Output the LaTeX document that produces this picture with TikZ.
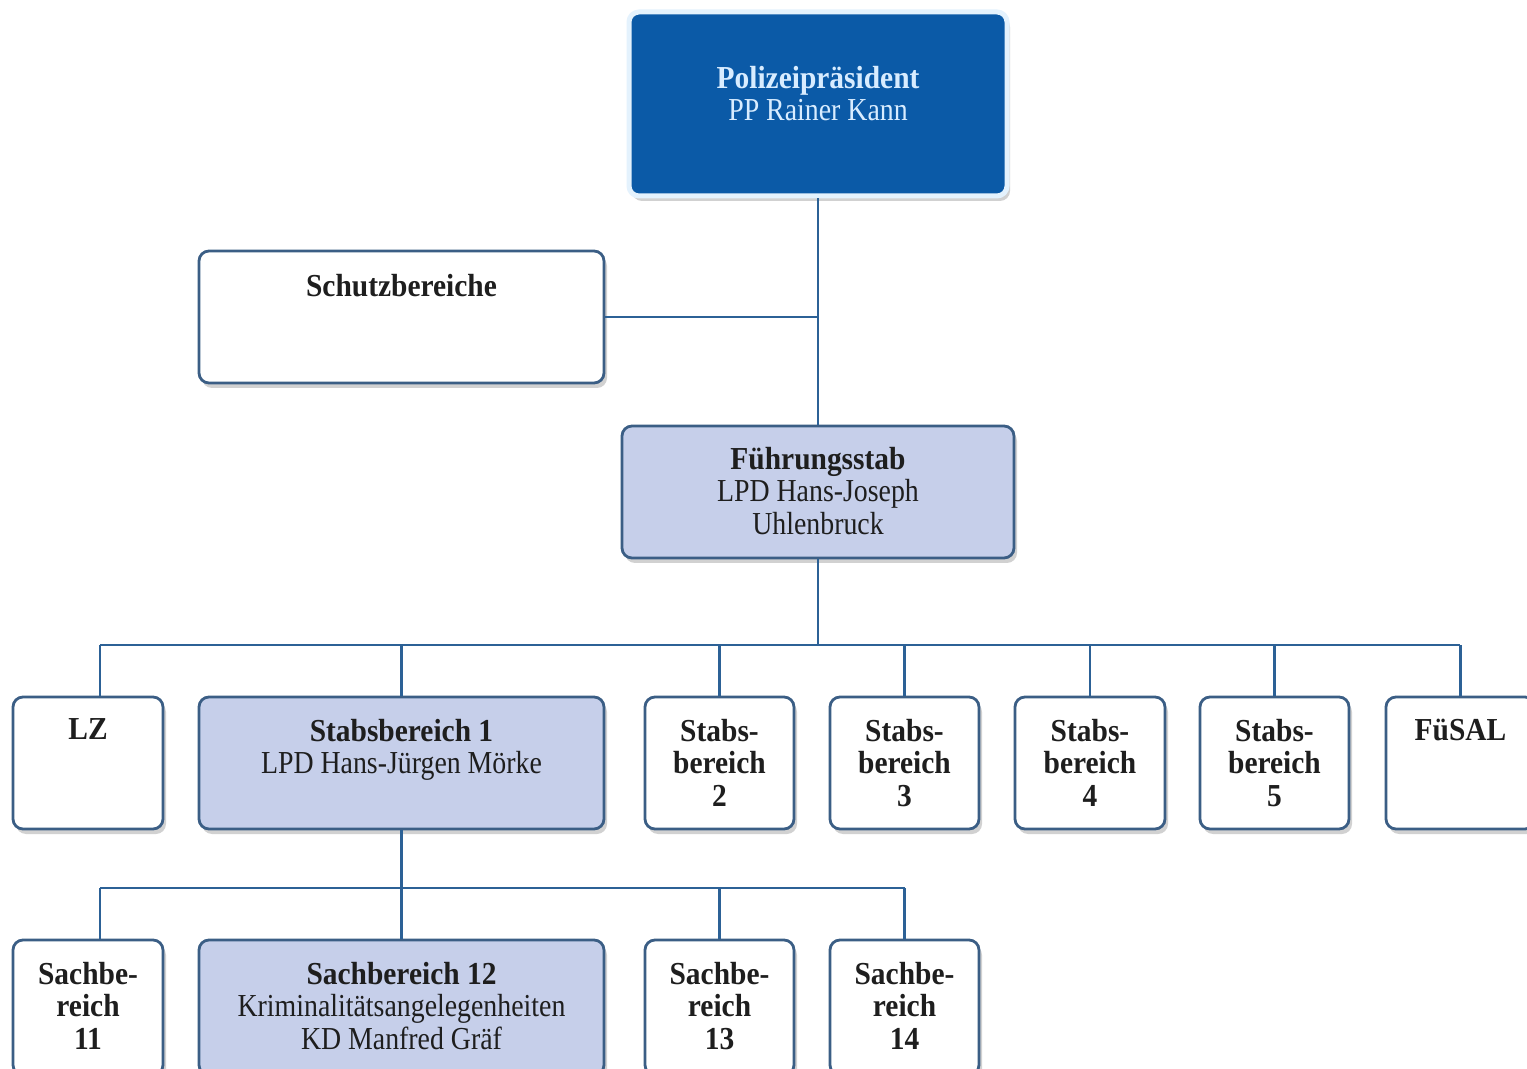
\documentclass[tikz,border=0pt]{standalone}
\usepackage{fontspec}
\newfontfamily\bff{Liberation Serif}[FakeStretch=0.92]
\newfontfamily\nff{Liberation Serif}[FakeStretch=0.87]
\usetikzlibrary{shadows}
\definecolor{ppblue}{HTML}{0B5AA7}
\definecolor{ppfg}{HTML}{D8ECFF}
\definecolor{pprim}{HTML}{E4F2FD}
\definecolor{lav}{HTML}{C6CFEA}
\definecolor{edgec}{HTML}{3B5E85}
\definecolor{conn}{HTML}{2C6196}
\definecolor{ink}{HTML}{1E1E1E}
\begin{document}
\begin{tikzpicture}[x=0.5pt,y=-0.5pt,
  box/.style={draw=edgec, line width=1.4pt, rounded corners=5pt, fill=white, inner sep=0pt,
    drop shadow={shadow xshift=1.5pt, shadow yshift=-2.5pt, opacity=0.18, fill=black}},
  lbox/.style={box, fill=lav},
  ppbox/.style={draw=pprim, line width=2.5pt, rounded corners=5pt, fill=ppblue, inner sep=0pt,
    drop shadow={shadow xshift=1.5pt, shadow yshift=-2.5pt, opacity=0.18, fill=black}},
  txt/.style={inner sep=0pt, align=center, anchor=north, text=ink, font=\fontsize{16}{16.2}\selectfont\nff},
  wire/.style={draw=conn, line width=1.3pt}]
\fill[white] (0,0) rectangle (1527,1069);
\useasboundingbox (0,0) rectangle (1527,1069);

% coordinates of the buses
\coordinate (busL) at (100,645);
\coordinate (busR) at (1460,645);
\coordinate (bus2L) at (100,888);

% boxes
\node[ppbox, minimum width=189pt, minimum height=92pt] (pp) at (818,104) {};
\node[box, minimum width=202.5pt, minimum height=66pt] (schutz) at (401.5,317) {};
\node[lbox, minimum width=196pt, minimum height=66pt] (fst) at (818,492) {};

\node[box, minimum width=75pt, minimum height=66pt] (lz) at (88,763) {};
\node[lbox, minimum width=202.5pt, minimum height=66pt] (sb1) at (401.5,763) {};
\node[box, minimum width=74.5pt, minimum height=66pt] (sb2) at (719.5,763) {};
\node[box, minimum width=74.5pt, minimum height=66pt] (sb3) at (904.5,763) {};
\node[box, minimum width=75pt, minimum height=66pt] (sb4) at (1090,763) {};
\node[box, minimum width=74.5pt, minimum height=66pt] (sb5) at (1274.5,763) {};
\node[box, minimum width=74.5pt, minimum height=66pt] (fue) at (1460.5,763) {};

\node[box, minimum width=75pt, minimum height=67.5pt] (s11) at (88,1007.5) {};
\node[lbox, minimum width=202.5pt, minimum height=67.5pt] (s12) at (401.5,1007.5) {};
\node[box, minimum width=74.5pt, minimum height=67.5pt] (s13) at (719.5,1007.5) {};
\node[box, minimum width=74.5pt, minimum height=67.5pt] (s14) at (904.5,1007.5) {};

% connectors
\draw[wire] (pp.south) -- (fst.north);
\draw[wire] (schutz.east) -- (schutz.east -| pp.south);
\draw[wire] (fst.south) -- (fst.south |- busL);
\draw[wire] (busL) -- (busR);
\draw[wire] (busL) -- (busL |- lz.north);
\foreach \n in {sb1,sb2,sb3,sb4,sb5,fue}{
  \draw[wire] (\n.north) -- (\n.north |- busL);
}
\draw[wire] (sb1.south) -- (sb1.south |- bus2L);
\draw[wire] (bus2L) -- (s14.north |- bus2L);
\draw[wire] (bus2L) -- (bus2L |- s11.north);
\foreach \n in {s12,s13,s14}{
  \draw[wire] (\n.north) -- (\n.north |- bus2L);
}

% texts
\node[txt, text=ppfg] (ppT) at ([yshift=-28pt]pp.north) {{\bff\bfseries Polizeipräsident}\\PP Rainer Kann};
\node[txt] (schutzT) at ([yshift=-12pt]schutz.north) {{\bff\bfseries Schutzbereiche}};
\node[txt] (fstT) at ([yshift=-11pt]fst.north) {{\bff\bfseries Führungsstab}\\LPD Hans-Joseph\\Uhlenbruck};

\node[txt] (lzT) at ([yshift=-11.5pt]lz.north) {{\bff\bfseries LZ}};
\node[txt] (sb1T) at ([yshift=-11.5pt]sb1.north) {{\bff\bfseries Stabsbereich 1}\\LPD Hans-Jürgen Mörke};
\node[txt] (sb2T) at ([yshift=-11.5pt]sb2.north) {\bff\bfseries Stabs-\\\bff\bfseries bereich\\\bff\bfseries 2};
\node[txt] (sb3T) at ([yshift=-11.5pt]sb3.north) {\bff\bfseries Stabs-\\\bff\bfseries bereich\\\bff\bfseries 3};
\node[txt] (sb4T) at ([yshift=-11.5pt]sb4.north) {\bff\bfseries Stabs-\\\bff\bfseries bereich\\\bff\bfseries 4};
\node[txt] (sb5T) at ([yshift=-11.5pt]sb5.north) {\bff\bfseries Stabs-\\\bff\bfseries bereich\\\bff\bfseries 5};
\node[txt] (fueT) at ([yshift=-11.5pt]fue.north) {{\bff\bfseries FüSAL}};

\node[txt] (s11T) at ([yshift=-11.5pt]s11.north) {\bff\bfseries Sachbe-\\\bff\bfseries reich\\\bff\bfseries 11};
\node[txt] (s12T) at ([yshift=-11.5pt]s12.north) {{\bff\bfseries Sachbereich 12}\\Kriminalitätsangelegenheiten\\KD Manfred Gräf};
\node[txt] (s13T) at ([yshift=-11.5pt]s13.north) {\bff\bfseries Sachbe-\\\bff\bfseries reich\\\bff\bfseries 13};
\node[txt] (s14T) at ([yshift=-11.5pt]s14.north) {\bff\bfseries Sachbe-\\\bff\bfseries reich\\\bff\bfseries 14};
\end{tikzpicture}
\end{document}
